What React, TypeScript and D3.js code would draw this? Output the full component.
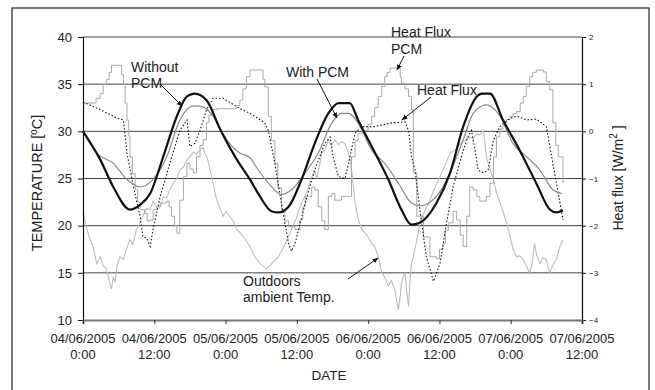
import React, { useEffect, useRef } from "react";
import * as d3 from "d3";

// ---- Data (hours since 04/06/2005 0:00) ----
const withoutPcm: [number, number][] = [
  [0, 30.0], [2.9, 27.0], [5.1, 24.1], [7.9, 21.7], [9.6, 22.2], [11.3, 23.4], [13.5, 27.3], [15.8, 31.6],
  [17.5, 33.7], [18.8, 34.0], [20.8, 33.3], [23.1, 30.2], [25.9, 27.0], [28.1, 24.9], [29.5, 23.4],
  [31.8, 21.5], [32.9, 21.4], [34.6, 22.0], [36.8, 24.9], [39.0, 28.7], [41.3, 31.9], [43.0, 33.0],
  [44.9, 33.0], [46.3, 31.2], [48.6, 28.4], [51.4, 24.9], [53.6, 21.7], [55.3, 20.1], [56.7, 20.3],
  [59.5, 22.4], [61.8, 25.6], [64.0, 30.5], [66.3, 33.7], [67.1, 34.0], [68.5, 34.0], [70.7, 31.2],
  [73.5, 28.0], [76.3, 24.5], [78.6, 21.7], [79.7, 21.4], [80.8, 21.6],
];

const withPcm: [number, number][] = [
  [0, 30.0], [2.3, 27.7], [5.1, 26.6], [7.4, 24.9], [9.6, 24.1], [11.8, 24.9], [14.1, 27.3], [16.3, 31.2],
  [18.6, 32.7], [20.2, 32.6], [21.9, 31.6], [24.2, 29.1], [26.4, 27.7], [28.1, 27.2], [29.5, 25.9],
  [31.8, 24.1], [33.4, 23.3], [35.1, 23.8], [37.4, 25.6], [39.6, 27.7], [41.9, 30.9], [43.5, 31.9],
  [44.7, 31.9], [46.3, 30.9], [48.6, 28.0], [50.8, 26.6], [53.1, 24.5], [55.3, 22.4], [56.7, 22.1],
  [59.5, 23.1], [61.8, 25.6], [64.0, 29.1], [65.7, 31.9], [67.9, 32.8], [70.2, 31.6], [72.4, 28.7],
  [74.7, 27.3], [76.9, 25.9], [79.1, 23.8], [80.6, 23.4],
];

// heat flux, W/m2
const heatFlux: [number, number][] = [
  [0, 0.62], [2.9, 0.46], [5.7, 0.28], [6.8, 0.24], [7.4, -0.46], [8.5, -1.18], [9.6, -1.8], [10.1, -2.24],
  [10.7, -2.26], [11.3, -2.44], [11.8, -2.08], [13.0, -1.38], [14.6, -0.68], [16.3, 0.02], [17.5, 0.24],
  [18.0, -0.32], [18.8, -0.26], [19.7, 0.02], [20.8, 0.46], [21.9, 0.7], [23.6, 0.7], [25.9, 0.52],
  [28.1, 0.38], [28.9, 0.32], [30.6, 0.18], [31.2, 0.02], [32.3, -0.68], [33.4, -1.52], [34.6, -2.38],
  [35.1, -2.54], [35.7, -2.38], [37.4, -1.52], [39.0, -0.82], [40.7, -0.26], [41.6, -0.12], [42.1, -0.54],
  [43.0, -0.96], [44.1, -1.0], [44.7, -0.68], [45.8, -0.04], [46.9, 0.1], [49.1, 0.1], [52.0, 0.18],
  [54.2, 0.2], [54.8, 0.02], [55.3, -0.54], [55.9, -0.82], [56.7, -1.66], [57.8, -2.66], [59.0, -3.18],
  [60.1, -2.8], [61.2, -1.94], [62.3, -1.18], [64.0, -0.4], [64.8, -0.12], [65.4, 0.02], [66.0, -0.4],
  [66.5, -0.82], [67.4, -0.88], [68.2, -0.82], [69.1, -0.18], [70.2, 0.1], [71.9, 0.28], [73.0, 0.32],
  [74.7, 0.24], [76.3, 0.26], [78.0, 0.1], [78.9, -0.54], [79.7, -1.1], [80.8, -1.88],
];

// heat flux PCM, W/m2 (logged in steps)
const heatFluxPcm: [number, number][] = [
  [0, 0.6], [1.5, 0.6], [2.2, 0.7], [2.9, 0.8], [3.4, 1.0], [4.0, 1.1], [4.4, 1.25], [4.8, 1.4], [6.2, 1.4],
  [6.5, 1.2], [6.8, 1.0], [7.1, 0.6], [7.4, 0.24], [7.7, -0.1], [7.9, -0.54], [8.3, -0.9], [8.8, -1.24],
  [9.2, -1.5], [9.6, -1.66], [10.4, -1.74], [10.8, -1.9], [11.3, -1.88], [11.8, -1.66], [12.4, -1.6],
  [13.0, -1.52], [14.1, -1.48], [14.5, -1.6], [14.9, -1.8], [15.4, -2.0], [15.8, -2.16], [16.3, -1.46],
  [16.9, -0.96], [17.5, -0.68], [18.0, -0.8], [18.6, -0.88], [19.1, -0.54], [19.7, -0.3], [20.2, -0.18],
  [20.8, 0.18], [21.2, 0.35], [21.7, 0.46], [22.5, 0.48], [25.3, 0.48], [25.8, 0.55], [26.4, 0.66],
  [26.9, 0.9], [27.5, 1.16], [28.1, 1.3], [30.0, 1.3], [30.3, 1.1], [30.6, 0.94], [31.2, 0.32],
  [31.7, -0.2], [32.3, -0.68], [32.8, -1.2], [33.4, -1.66], [34.0, -1.9], [34.6, -2.02], [35.7, -2.08],
  [36.5, -1.88], [37.0, -1.6], [37.4, -1.38], [38.5, -1.18], [39.0, -1.24], [39.6, -1.6], [40.2, -1.9],
  [40.7, -2.08], [41.3, -1.38], [41.9, -1.32], [42.4, -1.46], [43.5, -1.38], [44.7, -1.38], [45.2, -0.54],
  [45.8, -0.2], [46.3, -0.04], [47.5, 0.02], [48.0, 0.15], [48.6, 0.32], [49.1, 0.5], [49.7, 0.74],
  [50.3, 0.95], [50.8, 1.16], [51.2, 1.25], [51.7, 1.34], [53.1, 1.34], [53.4, 1.15], [53.6, 1.02],
  [54.2, 0.9], [54.8, 0.74], [55.3, 0.46], [55.6, -0.88], [56.2, -1.8], [57.3, -2.24], [58.4, -2.66],
  [59.5, -2.7], [60.0, -2.5], [60.6, -2.38], [61.0, -2.1], [61.5, -1.94], [62.3, -1.7], [62.9, -1.88],
  [63.5, -2.2], [64.0, -2.44], [64.6, -1.8], [65.1, -1.18], [65.7, -1.24], [66.3, -1.38], [66.8, -1.48],
  [67.9, -1.38], [68.5, -1.1], [69.1, -0.54], [69.6, -0.12], [70.2, 0.05], [70.7, 0.18], [71.3, 0.25],
  [71.9, 0.32], [72.4, 0.38], [73.0, 0.42], [73.6, 0.6], [74.1, 0.74], [74.6, 0.95], [75.2, 1.16],
  [75.7, 1.25], [76.3, 1.3], [77.5, 1.26], [78.0, 1.05], [78.6, 0.88], [79.1, 0.18], [79.6, -0.3],
  [80.0, -0.54], [80.8, -1.1],
];

const outdoor: [number, number][] = [
  [0, 21.5], [0.5, 20.0], [1.2, 18.5], [1.7, 17.8], [2.3, 16.0], [2.9, 16.7], [3.4, 15.7], [3.9, 15.5],
  [4.5, 13.9], [4.8, 13.3], [5.1, 14.6], [5.4, 14.0], [5.7, 15.7], [6.2, 16.7], [6.8, 16.4], [7.3, 17.5],
  [7.9, 18.5], [8.4, 18.0], [9.0, 19.6], [9.5, 20.2], [10.1, 21.0], [10.6, 21.8], [11.3, 21.7], [11.8, 22.6],
  [12.4, 22.0], [13.0, 22.0], [13.5, 23.0], [14.1, 23.0], [14.6, 23.8], [15.2, 24.5], [15.8, 25.0],
  [16.3, 25.9], [16.9, 26.2], [17.5, 27.0], [18.0, 27.3], [18.6, 27.8], [19.1, 27.6], [19.7, 28.0],
  [20.2, 28.3], [20.5, 27.7], [21.0, 27.0], [21.4, 25.9], [21.9, 24.5], [22.5, 22.7], [23.1, 21.8],
  [23.6, 21.0], [24.1, 21.5], [24.7, 21.0], [25.3, 20.5], [25.9, 19.6], [26.5, 19.2], [27.0, 18.8],
  [27.6, 18.3], [28.1, 17.8], [28.9, 16.7], [29.8, 16.0], [30.9, 15.4], [31.8, 16.0], [32.9, 16.7],
  [34.0, 18.0], [35.1, 19.6], [35.9, 20.8], [36.8, 22.4], [37.6, 23.5], [38.5, 25.2], [39.0, 25.8],
  [39.4, 25.0], [40.2, 27.7], [40.7, 28.0], [41.3, 29.1], [41.8, 28.5], [42.4, 29.1], [43.0, 28.6],
  [43.5, 28.9], [44.1, 28.7], [44.9, 27.3], [45.3, 25.5], [45.8, 22.4], [46.3, 20.8], [46.9, 19.6],
  [47.5, 19.2], [48.0, 18.8], [48.6, 18.1], [49.1, 17.8], [49.7, 16.7], [50.3, 15.0], [50.8, 14.5],
  [51.4, 13.6], [51.9, 14.2], [52.5, 13.2], [52.8, 12.0], [53.1, 11.1], [53.4, 12.5], [53.6, 13.9],
  [53.9, 14.5], [54.2, 15.0], [54.5, 13.0], [54.8, 11.4], [55.0, 13.9], [55.3, 16.0], [55.6, 16.7],
  [56.2, 18.5], [56.7, 20.3], [57.5, 21.5], [58.4, 22.7], [59.2, 24.0], [60.1, 25.2], [61.0, 26.5],
  [61.8, 27.7], [62.6, 28.0], [63.5, 28.7], [64.3, 29.0], [65.1, 29.4], [65.7, 29.2], [66.3, 29.8],
  [66.8, 29.6], [67.4, 30.1], [67.9, 27.3], [68.5, 26.0], [69.1, 24.9], [69.6, 23.5], [70.2, 22.4],
  [70.7, 21.5], [71.3, 20.3], [71.9, 18.8], [72.4, 17.5], [73.0, 16.7], [73.5, 16.8], [74.1, 16.4],
  [74.6, 15.8], [75.2, 15.0], [75.6, 16.0], [76.0, 18.1], [76.4, 16.8], [76.9, 16.0], [77.5, 16.6],
  [78.0, 16.4], [78.3, 15.5], [78.6, 15.0], [79.1, 15.8], [79.7, 16.4], [80.0, 17.2], [80.3, 17.8],
  [80.8, 18.5],
];

const xTickHours = [0, 12, 24, 36, 48, 60, 72, 84];
const xTickDates = ["04/06/2005", "04/06/2005", "05/06/2005", "05/06/2005", "06/06/2005", "06/06/2005", "07/06/2005", "07/06/2005"];
const xTickTimes = ["0:00", "12:00", "0:00", "12:00", "0:00", "12:00", "0:00", "12:00"];
const tempTicks = [10, 15, 20, 25, 30, 35, 40];
const fluxTicks = [-4, -3, -2, -1, 0, 1, 2];

const FONT = "'Liberation Sans', Arial, sans-serif";
const L = 83, R = 582, T = 37, B = 320;

export default function App() {
  const leftRef = useRef<SVGGElement>(null);
  const rightRef = useRef<SVGGElement>(null);
  const bottomRef = useRef<SVGGElement>(null);

  const x = d3.scaleLinear().domain([0, 84]).range([L, R]);
  const yT = d3.scaleLinear().domain([10, 40]).range([B, T]);
  const yF = d3.scaleLinear().domain([-4, 2]).range([B, T]);

  const lineT = d3.line<[number, number]>().x((d) => x(d[0])).y((d) => yT(d[1]));
  const lineTsmooth = d3.line<[number, number]>().x((d) => x(d[0])).y((d) => yT(d[1])).curve(d3.curveMonotoneX);
  const lineF = d3.line<[number, number]>().x((d) => x(d[0])).y((d) => yF(d[1]));
  const lineFstep = d3.line<[number, number]>().x((d) => x(d[0])).y((d) => yF(d[1])).curve(d3.curveStepAfter);

  useEffect(() => {
    const la = d3.axisLeft(yT).tickValues(tempTicks).tickSize(5).tickPadding(6).tickFormat(d3.format("d"));
    const gl = d3.select(leftRef.current!);
    gl.call(la as any);
    gl.select(".domain").attr("stroke", "#111").attr("stroke-width", 1.2);
    gl.selectAll(".tick line").attr("stroke", "#111");
    gl.selectAll(".tick text").attr("font-size", 13).attr("font-family", FONT).attr("fill", "#222");

    const ra = d3.axisRight(yF).tickValues(fluxTicks).tickSize(4).tickPadding(3).tickFormat(d3.format("d"));
    const gr = d3.select(rightRef.current!);
    gr.call(ra as any);
    gr.select(".domain").attr("stroke", "#111").attr("stroke-width", 1.2);
    gr.selectAll(".tick line").attr("stroke", "#111");
    gr.selectAll(".tick text").attr("font-size", 8).attr("font-family", FONT).attr("fill", "#222");

    const ba = d3.axisBottom(x).tickValues(xTickHours).tickSize(4).tickFormat(() => "");
    const gb = d3.select(bottomRef.current!);
    gb.call(ba as any);
    gb.select(".domain").attr("stroke", "#777").attr("stroke-width", 2.2);
    gb.selectAll(".tick line").attr("stroke", "#333");
  }, []);

  const textStyle = { fontFamily: FONT, fill: "#222" } as const;

  return (
    <svg width={655} height={390} style={{ position: "absolute", left: 0, top: 0, background: "#fff" }}>
      <defs>
        <marker id="arr" viewBox="0 0 10 10" refX="9" refY="5" markerWidth="6" markerHeight="6" orient="auto-start-reverse">
          <path d="M0,1 L10,5 L0,9 z" fill="#111" />
        </marker>
      </defs>
      <rect x={12} y={8} width={637} height={395} fill="#fff" stroke="#333" strokeWidth={1.3} />

      {/* gridlines */}
      {tempTicks.filter((t) => t > 10).map((t) => (
        <line key={t} x1={L} x2={R} y1={yT(t)} y2={yT(t)} stroke="#444" strokeWidth={1} />
      ))}

      {/* series */}
      <path d={lineT(outdoor) || ""} fill="none" stroke="#bdbdbd" strokeWidth={1.1} />
      <path d={lineFstep(heatFluxPcm) || ""} fill="none" stroke="#a8a8a8" strokeWidth={1} />
      <path d={lineF(heatFlux) || ""} fill="none" stroke="#111" strokeWidth={1.1} strokeDasharray="1.5 2" />
      <path d={lineTsmooth(withPcm) || ""} fill="none" stroke="#8a8a8a" strokeWidth={1.2} />
      <path d={lineTsmooth(withoutPcm) || ""} fill="none" stroke="#111" strokeWidth={2.2} />

      {/* axes */}
      <g ref={leftRef} transform={`translate(${L},0)`} />
      <g ref={rightRef} transform={`translate(${R},0)`} />
      <g ref={bottomRef} transform={`translate(0,${B})`} />

      {/* bottom tick labels */}
      {xTickHours.map((h, i) => (
        <text key={"d" + i} x={x(h)} y={343} textAnchor="middle" fontSize={13} style={textStyle}>
          {xTickDates[i]}
        </text>
      ))}
      {xTickHours.map((h, i) => (
        <text key={"t" + i} x={x(h)} y={359} textAnchor="middle" fontSize={13} style={textStyle}>
          {xTickTimes[i]}
        </text>
      ))}

      {/* axis titles */}
      <text x={329} y={380} textAnchor="middle" fontSize={13.5} style={textStyle}>DATE</text>
      <text transform="translate(42,183) rotate(-90)" textAnchor="middle" fontSize={14.5} style={textStyle}>
        TEMPERATURE [ºC]
      </text>
      <text transform="translate(623,178) rotate(-90)" textAnchor="middle" fontSize={14} style={textStyle}>
        Heat flux [W/m<tspan dy={-6} fontSize={10}>2</tspan><tspan dy={6}> ]</tspan>
      </text>

      {/* annotations */}
      <g fontSize={14} style={textStyle}>
        <text x={131} y={72}>Without</text>
        <text x={131} y={88}>PCM</text>
        <text x={286} y={77}>With PCM</text>
        <text x={391} y={37}>Heat Flux</text>
        <text x={391} y={54}>PCM</text>
        <text x={417} y={95}>Heat Flux</text>
        <text x={243} y={286}>Outdoors</text>
        <text x={243} y={302}>ambient Temp.</text>
      </g>
      <g stroke="#111" strokeWidth={1}>
        <line x1={160} y1={84} x2={182} y2={106} markerEnd="url(#arr)" />
        <line x1={317} y1={79} x2={337} y2={118} markerEnd="url(#arr)" />
        <line x1={404} y1={56} x2={397} y2={70} markerEnd="url(#arr)" />
        <line x1={431} y1={97} x2={402} y2={120} markerEnd="url(#arr)" />
        <line x1={348} y1={279} x2={378} y2={258} markerEnd="url(#arr)" />
      </g>
    </svg>
  );
}
